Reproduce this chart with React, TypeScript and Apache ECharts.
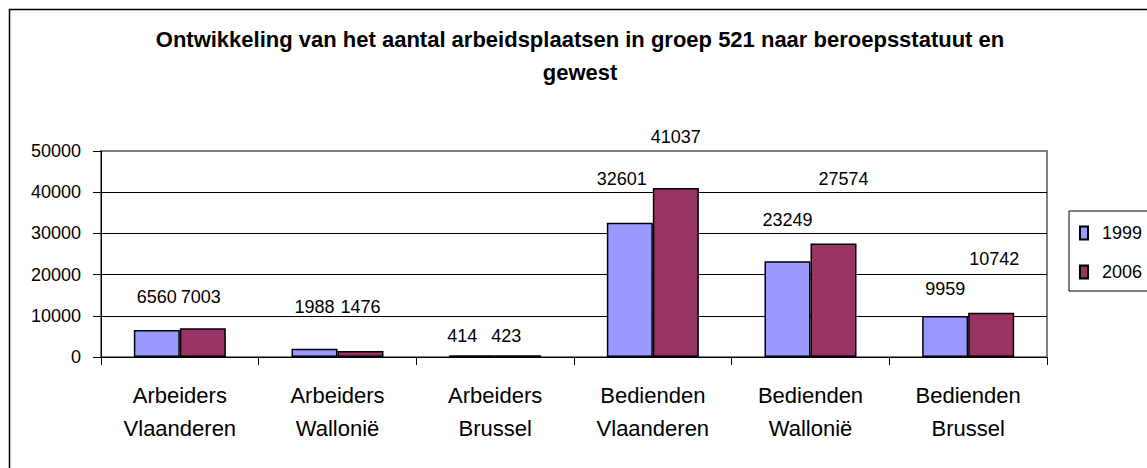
import React, { useEffect, useRef } from "react";
import * as echarts from "echarts";

const categories = [
  "Arbeiders\nVlaanderen",
  "Arbeiders\nWallonië",
  "Arbeiders\nBrussel",
  "Bedienden\nVlaanderen",
  "Bedienden\nWallonië",
  "Bedienden\nBrussel",
];
const seriesNames = ["1999", "2006"];
const values1999 = [6560, 1988, 414, 32601, 23249, 9959];
const values2006 = [7003, 1476, 423, 41037, 27574, 10742];
const yTicks = [0, 10000, 20000, 30000, 40000, 50000];
const titleText =
  "Ontwikkeling van het aantal arbeidsplaatsen in groep 521 naar beroepsstatuut en\ngewest";

// label placement (gap in px between bar top and label baseline, horizontal shift)
const labelLift1999 = [27, 36, 13, 38, 35, 21];
const labelLift2006 = [25, 38, 13, 45, 58, 48];
const labelShift1999 = [0, 0, -10, -8, 0, 0];
const labelShift2006 = [-2, 0, -12, 0, 10, 3];

const FONT = "'Liberation Sans', Arial, sans-serif";
const FS_TEXT = 22;
const FS_NUM = 18;

function buildData(values: number[], lift: number[], shift: number[]) {
  return values.map((v, i) => ({
    value: v,
    label: { distance: lift[i] - 3, offset: [shift[i], 0] },
  }));
}

export default function App() {
  const ref = useRef<HTMLDivElement>(null);
  useEffect(() => {
    if (!ref.current) return;
    const chart = echarts.init(ref.current, null, { renderer: "svg" });
    const labelCommon = {
      show: true,
      position: "top",
      color: "#000",
      fontFamily: FONT,
      fontSize: FS_NUM,
    };
    chart.setOption({
      animation: false,
      backgroundColor: "#fff",
      textStyle: { fontFamily: FONT },
      title: {
        text: titleText,
        left: 580,
        top: 23,
        textAlign: "center",
        padding: 0,
        textStyle: {
          fontFamily: FONT,
          fontSize: FS_TEXT,
          fontWeight: "bold",
          color: "#000",
          lineHeight: 33,
          align: "center",
        },
      },
      legend: {
        orient: "vertical",
        left: 1069,
        top: 211,
        padding: [13, 14, 10, 10],
        itemGap: 21,
        itemWidth: 8,
        itemHeight: 13,
        borderColor: "#000",
        borderWidth: 1,
        icon: "rect",
        data: seriesNames,
        textStyle: {
          fontFamily: FONT,
          fontSize: FS_NUM,
          color: "#000",
          padding: [0, 0, 0, 9],
        },
      },
      grid: {
        left: 101,
        top: 151,
        width: 946,
        height: 206,
        show: true,
        borderColor: "#808080",
        borderWidth: 2,
        backgroundColor: "transparent",
      },
      xAxis: {
        type: "category",
        data: categories,
        axisLine: { lineStyle: { color: "#000", width: 1 } },
        axisTick: { show: true, length: 8, lineStyle: { color: "#000" } },
        axisLabel: {
          color: "#000",
          fontFamily: FONT,
          fontSize: FS_TEXT,
          lineHeight: 33,
          margin: 22,
          interval: 0,
        },
      },
      yAxis: {
        type: "value",
        min: yTicks[0],
        max: yTicks[yTicks.length - 1],
        interval: yTicks[1] - yTicks[0],
        axisLine: { show: true, lineStyle: { color: "#000", width: 1 } },
        axisTick: { show: true, length: 8, lineStyle: { color: "#000" } },
        axisLabel: {
          color: "#000",
          fontFamily: FONT,
          fontSize: FS_NUM,
          margin: 20,
          formatter: (v: number) => String(v),
        },
        splitLine: {
          show: true,
          lineStyle: {
            color: ["#000", "#000", "#000", "#000", "#000", "#808080"],
            width: 1,
          },
        },
      },
      series: [
        {
          name: seriesNames[0],
          type: "bar",
          barWidth: 46,
          barGap: "0%",
          itemStyle: { color: "#9999FF", borderColor: "#000", borderWidth: 1.5 },
          label: labelCommon,
          data: buildData(values1999, labelLift1999, labelShift1999),
        },
        {
          name: seriesNames[1],
          type: "bar",
          barWidth: 46,
          barGap: "0%",
          itemStyle: { color: "#993366", borderColor: "#000", borderWidth: 1.5 },
          label: labelCommon,
          data: buildData(values2006, labelLift2006, labelShift2006),
        },
      ],
      graphic: [
        {
          type: "rect",
          left: 7,
          top: 7,
          shape: { x: 0, y: 0, width: 1160, height: 480 },
          style: { fill: "none", stroke: "#000", lineWidth: 1.5 },
          silent: true,
          z: -1,
        },
      ],
    });
    return () => chart.dispose();
  }, []);
  return (
    <div
      ref={ref}
      style={{ position: "fixed", left: 0, top: 0, width: 1147, height: 468 }}
    />
  );
}
